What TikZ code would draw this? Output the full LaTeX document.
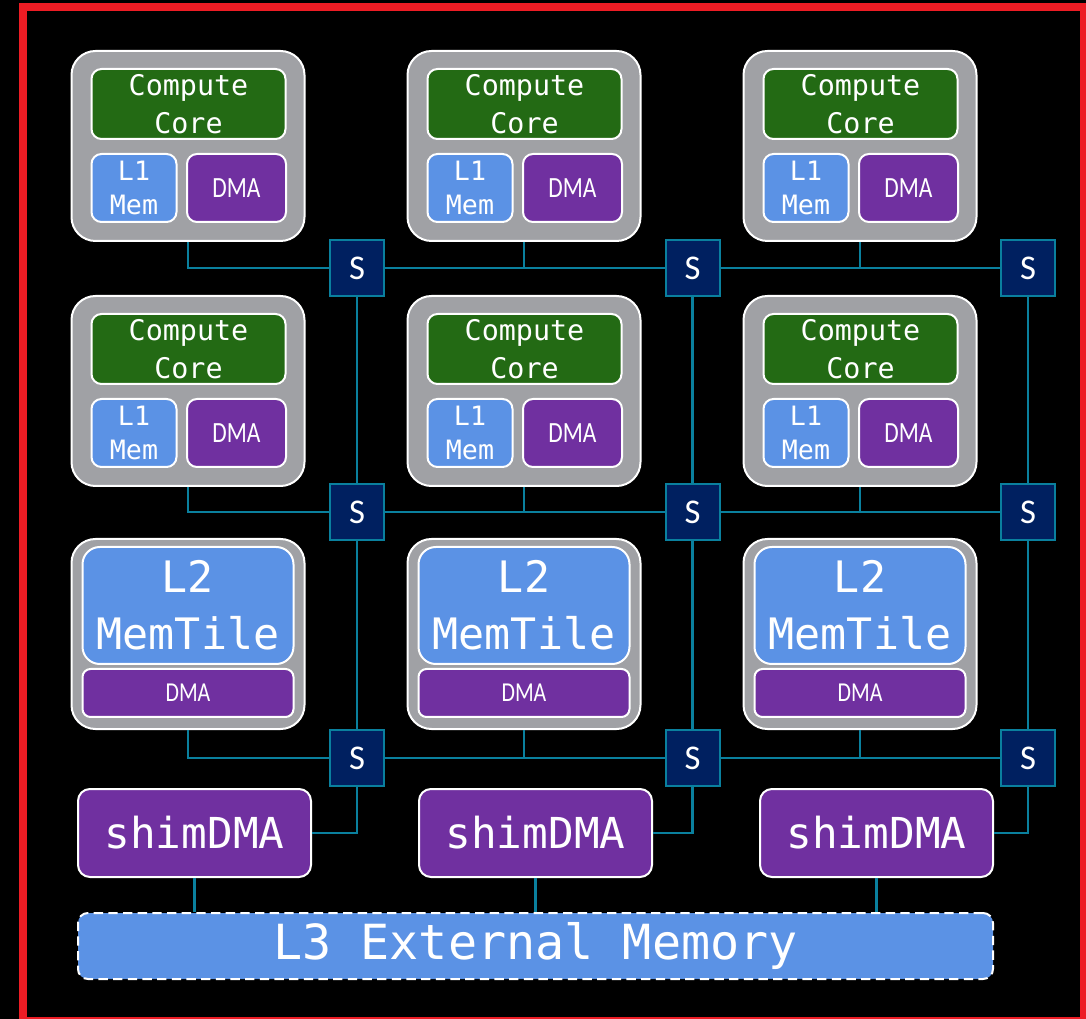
\documentclass[tikz,border=0pt]{standalone}
\usepackage{fontspec}
\setmonofont{DejaVu Sans Mono}
\newfontfamily\dmafont[FakeStretch=0.8]{Carlito}
\newfontfamily\swfont{Carlito}

\definecolor{tilegray}{RGB}{160,161,165}
\definecolor{coregreen}{RGB}{35,106,20}
\definecolor{memblue}{RGB}{91,146,229}
\definecolor{dmapurple}{RGB}{112,48,160}
\definecolor{swnavy}{RGB}{0,32,96}
\definecolor{linkteal}{RGB}{10,128,158}
\definecolor{framered}{RGB}{237,28,36}

\begin{document}
\begin{tikzpicture}[x=0.75pt,y=-0.75pt,
  box/.style={draw=white,line width=1.5pt,text=white,inner sep=0pt,align=center},
  tile/.style={box,fill=tilegray,rounded corners=18pt,minimum width=174.75pt,minimum height=142.5pt},
  core/.style={box,fill=coregreen,rounded corners=7.5pt,minimum width=145.5pt,minimum height=52.5pt,
    font=\ttfamily\fontsize{21.3}{28.5}\selectfont},
  lmem/.style={box,fill=memblue,rounded corners=7.5pt,minimum width=63.75pt,minimum height=51pt,
    font=\ttfamily\fontsize{20}{26}\selectfont},
  dma/.style={box,fill=dmapurple,rounded corners=7.5pt,minimum width=74.25pt,minimum height=51pt,
    font=\dmafont\fontsize{22}{26}\selectfont},
  memtile/.style={box,fill=memblue,rounded corners=13pt,minimum width=158.25pt,minimum height=87.75pt,
    font=\ttfamily\fontsize{32.5}{43}\selectfont},
  mtdma/.style={box,fill=dmapurple,rounded corners=6pt,minimum width=158.25pt,minimum height=36pt,
    font=\dmafont\fontsize{20.5}{24}\selectfont},
  sw/.style={draw=linkteal,line width=1.5pt,fill=swnavy,text=white,inner sep=0pt,
    minimum width=40.5pt,minimum height=42pt,font=\swfont\fontsize{26}{30}\selectfont},
  shim/.style={box,fill=dmapurple,rounded corners=9pt,minimum width=174.75pt,minimum height=66pt,
    font=\ttfamily\fontsize{32}{40}\selectfont},
  extmem/.style={box,dash pattern=on 7pt off 4pt,fill=memblue,rounded corners=7.5pt,
    minimum width=686.25pt,minimum height=49.5pt,font=\ttfamily\fontsize{36.3}{44}\selectfont},
  link/.style={draw=linkteal,line width=2.2pt}]

% Background and bounding box
\fill[black] (0,0) rectangle (1086,1019);
\useasboundingbox (0,0) rectangle (1086,1019);

% Compute tiles
\foreach \c in {0,1,2}{
  \foreach \r in {0,1}{
    \pgfmathsetmacro\tx{188+336*\c}
    \pgfmathsetmacro\ty{146+245*\r}
    \node[tile] (tile\r\c) at (\tx,\ty) {};
    \node[core] (core\r\c) at (\tx+0.5,\ty-42) {Compute\\Core};
    \node[lmem] (lmem\r\c) at (\tx-54,\ty+42) {L1\\Mem};
    \node[dma]  (dma\r\c)  at (\tx+48.5,\ty+42) {DMA};
  }
  % L2 memory tiles
  \pgfmathsetmacro\tx{188+336*\c}
  \node[tile] (mt\c) at (\tx,634) {};
  \node[memtile] (mtmem\c) at (\tx,605.5) {L2\\MemTile};
  \node[mtdma] (mtdma\c) at (\tx,693) {DMA};
  % shim DMAs
  \node[shim] (shim\c) at (194.5+341*\c,833) {shimDMA};
  % switches
  \foreach \r/\sy in {0/268,1/512,2/758}
    \node[sw] (sw\r\c) at (357+335.5*\c,\sy) {S};
}

% L3 memory
\node[extmem] (l3) at (535.5,946) {L3 External Memory};

% Links: tiles to switches
\foreach \c in {0,1,2}{
  \draw[link] (tile0\c.south) |- (sw0\c.west);
  \draw[link] (tile1\c.south) |- (sw1\c.west);
  \draw[link] (mt\c.south) |- (sw2\c.west);
  \draw[link] (sw0\c.south) -- (sw1\c.north);
  \draw[link] (sw1\c.south) -- (sw2\c.north);
  \draw[link] (shim\c.east) -| (sw2\c.south);
  \draw[link] (shim\c.south) -- (shim\c.south |- l3.north);
}
% Links: switch to switch
\foreach \r in {0,1,2}{
  \draw[link] (sw\r0.east) -- (sw\r1.west);
  \draw[link] (sw\r1.east) -- (sw\r2.west);
}

% Red frame
\draw[framered,line width=6pt] (23,7) rectangle (1084,1021);

\end{tikzpicture}
\end{document}
